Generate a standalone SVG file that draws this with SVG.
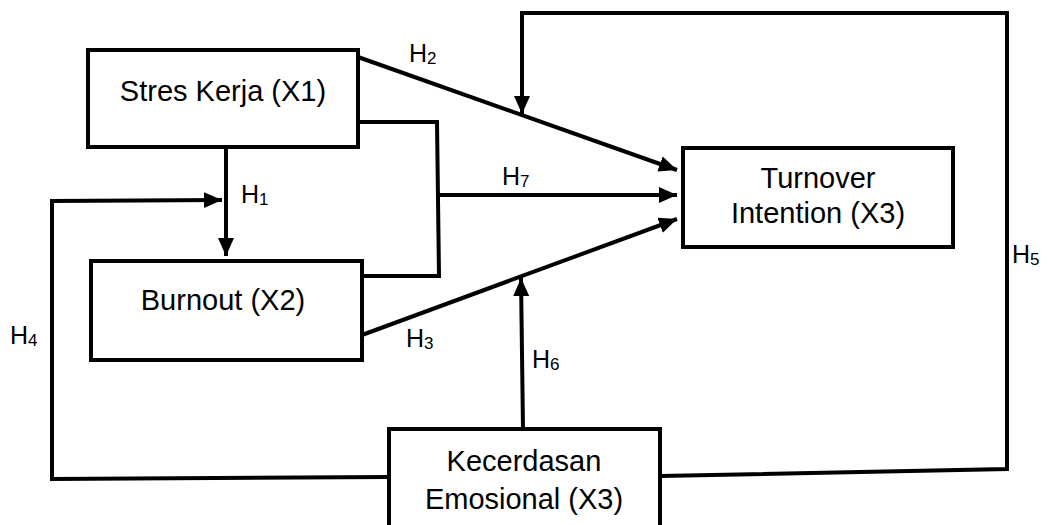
<svg xmlns="http://www.w3.org/2000/svg" width="1048" height="525" viewBox="0 0 1048 525">
  <style>
    .box { fill: #ffffff; stroke: #000000; stroke-width: 4; }
    .lbl { font-family: "Liberation Sans", Arial, sans-serif; font-size: 29px; fill: #000000; text-anchor: middle; }
    .h { font-family: "Liberation Sans", Arial, sans-serif; font-size: 25px; fill: #000000; }
    .sub { font-size: 17px; }
    .ln { fill: none; stroke: #000000; stroke-width: 4; stroke-linejoin: miter; }
    .arr { marker-end: url(#ah); }
  </style>
  <defs>
    <marker id="ah" markerUnits="userSpaceOnUse" markerWidth="20" markerHeight="18" refX="18" refY="8" orient="auto">
      <path d="M0,0 L18,8 L0,16 Z" fill="#000000"/>
    </marker>
  </defs>

  <g id="connectors">
    <!-- H2 -->
    <line class="ln arr" x1="358" y1="57" x2="677" y2="170"/>
    <!-- H7 bracket -->
    <polyline class="ln" points="358,122 437,122 439,276 362,276"/>
    <line class="ln arr" x1="439" y1="195" x2="677" y2="195"/>
    <!-- H3 -->
    <line class="ln arr" x1="362" y1="335" x2="677" y2="219"/>
    <!-- H1 -->
    <line class="ln arr" x1="226" y1="147" x2="226" y2="256"/>
    <!-- H4 -->
    <polyline class="ln arr" points="389,477 52,479 52,201 222,200"/>
    <!-- H6 -->
    <line class="ln arr" x1="523" y1="429" x2="521" y2="278"/>
    <!-- H5 -->
    <polyline class="ln arr" points="660,476 1007,469 1007,13 522,13 522,114"/>
  </g>

  <g id="labels">
    <text class="h" x="241" y="203">H<tspan class="sub" dy="2">1</tspan></text>
    <text class="h" x="409" y="62">H<tspan class="sub" dy="2">2</tspan></text>
    <text class="h" x="406" y="347">H<tspan class="sub" dy="2">3</tspan></text>
    <text class="h" x="10" y="344">H<tspan class="sub" dy="2">4</tspan></text>
    <text class="h" x="1012" y="263">H<tspan class="sub" dy="2">5</tspan></text>
    <text class="h" x="532" y="368">H<tspan class="sub" dy="2">6</tspan></text>
    <text class="h" x="502" y="185">H<tspan class="sub" dy="2">7</tspan></text>
  </g>

  <g id="stres-kerja">
    <rect class="box" x="88" y="50" width="270" height="97"/>
    <text class="lbl" x="223" y="101">Stres Kerja (X1)</text>
  </g>

  <g id="burnout">
    <rect class="box" x="91" y="261" width="271" height="99"/>
    <text class="lbl" x="223" y="310">Burnout (X2)</text>
  </g>

  <g id="turnover">
    <rect class="box" x="683" y="148" width="270" height="99"/>
    <text class="lbl" x="818" y="188">Turnover</text>
    <text class="lbl" x="818" y="223">Intention (X3)</text>
  </g>

  <g id="kecerdasan">
    <rect class="box" x="389" y="429" width="271" height="110"/>
    <text class="lbl" x="524" y="471">Kecerdasan</text>
    <text class="lbl" x="524" y="509">Emosional (X3)</text>
  </g>
</svg>
